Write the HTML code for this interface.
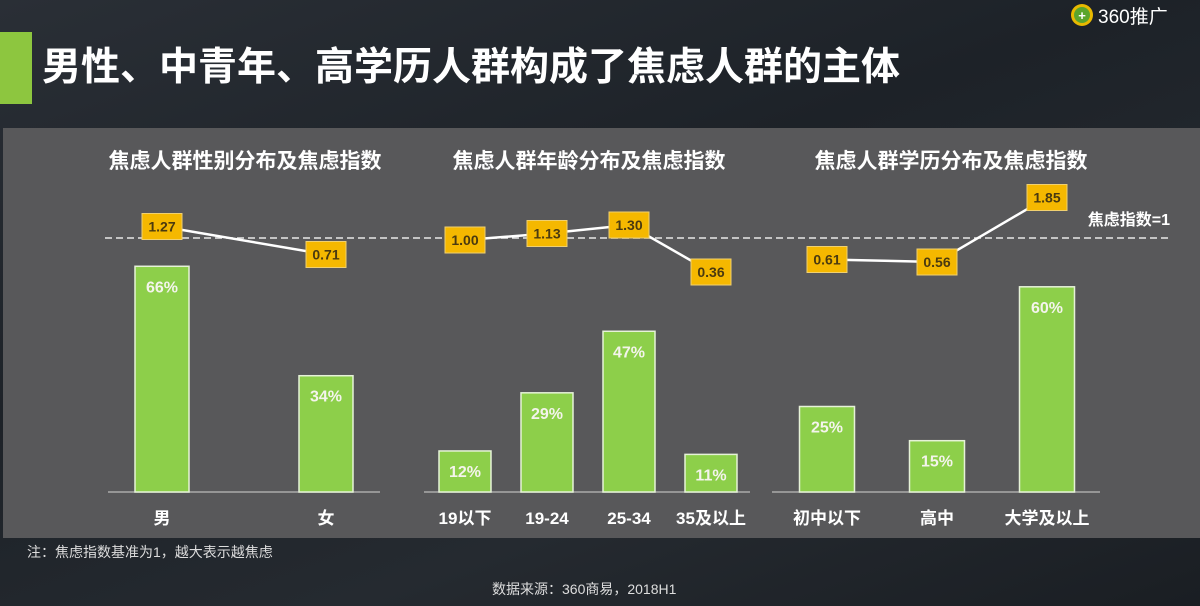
<!DOCTYPE html>
<html><head><meta charset="utf-8">
<style>
body{margin:0;width:1200px;height:606px;overflow:hidden;font-family:"Liberation Sans","Noto Sans CJK SC",sans-serif;}
#bg{position:absolute;left:0;top:0;width:1200px;height:606px;background:linear-gradient(160deg,#2a2f36 0%,#1d2228 40%,#252a30 70%,#1a1e23 100%);}
</style></head>
<body>
<div id="bg"></div>
<svg id="svg" width="1200" height="606" style="position:absolute;left:0;top:0">
<rect x="0" y="32" width="32" height="72" fill="#8dc63f"/>
<text x="42" y="80" font-size="39" font-weight="bold" fill="#ffffff" font-family="'Liberation Sans','Noto Sans CJK SC',sans-serif">男性、中青年、高学历人群构成了焦虑人群的主体</text>
<g>
<circle cx="1082" cy="15" r="11" fill="#e8b900"/>
<circle cx="1082" cy="15" r="8" fill="#5aa52d"/>
<text x="1082" y="20" font-size="13" font-weight="bold" fill="#fff" text-anchor="middle">+</text>
<text x="1098" y="23" font-size="19" fill="#ffffff" font-family="'Liberation Sans','Noto Sans CJK SC',sans-serif">360推广</text>
</g>
<rect x="3" y="128" width="1197" height="410" fill="#58585a"/>
<line x1="105" y1="238" x2="1168" y2="238" stroke="#e8e8e8" stroke-width="1.5" stroke-dasharray="7,4"/>
<text x="1170" y="225" font-size="16" font-weight="bold" fill="#fff" text-anchor="end">焦虑指数=1</text>
<text x="27" y="557" font-size="14" fill="#ddd">注：焦虑指数基准为1，越大表示越焦虑</text>
<text x="492" y="594" font-size="14" fill="#ddd">数据来源：360商易，2018H1</text>
</svg>
<script>
const g1Cats=["男","女"];
const g1Pct=[66,34];
const g1Idx=[1.27,0.71];
const g2Cats=["19以下","19-24","25-34","35及以上"];
const g2Pct=[12,29,47,11];
const g2Idx=[1.00,1.13,1.30,0.36];
const g3Cats=["初中以下","高中","大学及以上"];
const g3Pct=[25,15,60];
const g3Idx=[0.61,0.56,1.85];
const titles=["焦虑人群性别分布及焦虑指数","焦虑人群年龄分布及焦虑指数","焦虑人群学历分布及焦虑指数"];

const NS="http://www.w3.org/2000/svg";
const svg=document.getElementById('svg');
const base=492;
function yBar(p){return base-p*3.42;}
function yIdx(v){return 240-(v-1)*50;}
function mk(tag,attrs,parent){const e=document.createElementNS(NS,tag);for(const k in attrs)e.setAttribute(k,attrs[k]);(parent||svg).appendChild(e);return e;}
const groups=[
 {cats:g1Cats,pct:g1Pct,idx:g1Idx,x0:108,x1:380,cx:[162,326],bw:54,tx:245},
 {cats:g2Cats,pct:g2Pct,idx:g2Idx,x0:424,x1:750,cx:[465,547,629,711],bw:52,tx:589},
 {cats:g3Cats,pct:g3Pct,idx:g3Idx,x0:772,x1:1100,cx:[827,937,1047],bw:55,tx:951}
];
groups.forEach((G,gi)=>{
 const t=mk('text',{x:G.tx,y:168,'font-size':21,'font-weight':'bold',fill:'#fff','text-anchor':'middle'});
 t.textContent=titles[gi];
 
 
 const ax=mk('line',{x1:G.x0,y1:base,x2:G.x1,y2:base,stroke:'#aaa','stroke-width':1.5});
 
 
 G.cats.forEach((c,i)=>{
  const x=G.cx[i],y=yBar(G.pct[i]);
  const r=mk('rect',{x:x-G.bw/2,y:y,width:G.bw,height:base-y,fill:'#8dcf4a',stroke:'#e6f2d8','stroke-width':1.5});
  
  
  const v=mk('text',{x:x,y:y+26,'font-size':16,'font-weight':'bold',fill:'#f4f4ec','text-anchor':'middle'});
  v.textContent=G.pct[i]+'%';
  
  
  const l=mk('text',{x:x,y:524,'font-size':17,'font-weight':'bold',fill:'#fff','text-anchor':'middle'});
  l.textContent=c;
  
  
 });
 const pts=G.cx.map((x,i)=>x+','+yIdx(G.idx[i])).join(' ');
 const pl=mk('polyline',{points:pts,fill:'none',stroke:'#fff','stroke-width':2.5});
 
 
 G.idx.forEach((v,i)=>{
  const x=G.cx[i],y=yIdx(v);
  const b=mk('rect',{x:x-20,y:y-13,width:40,height:26,fill:'#f5b800',stroke:'#f0d070','stroke-width':1});
  
  
  const t2=mk('text',{x:x,y:y+5,'font-size':14,'font-weight':'bold',fill:'#4a3a10','text-anchor':'middle'});
  t2.textContent=v.toFixed(2);
  
  
 });
});
</script>
</body></html>
